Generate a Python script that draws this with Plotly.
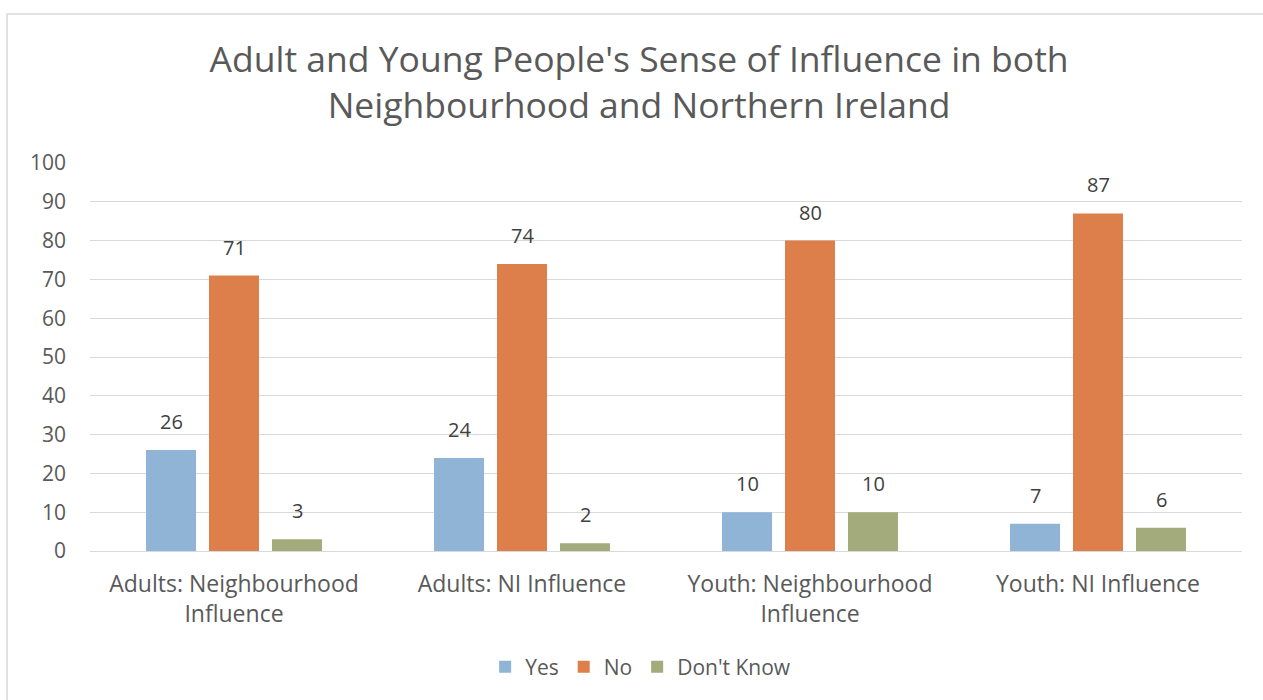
import plotly.graph_objects as go

categories = ["Adults: Neighbourhood<br>Influence", "Adults: NI Influence",
              "Youth: Neighbourhood<br>Influence", "Youth: NI Influence"]
series_names = ["Yes", "No", "Don't Know"]
yes_vals = [26, 24, 10, 7]
no_vals = [71, 74, 80, 87]
dk_vals = [3, 2, 10, 6]
colors = ["#8FB4D5", "#DC7F4A", "#A3AA7B"]
y_ticks = list(range(0, 101, 10))

FONT = "'Open Sans', sans-serif"
fig = go.Figure()
all_vals = [yes_vals, no_vals, dk_vals]
for name, vals, c in zip(series_names, all_vals, colors):
    fig.add_trace(go.Bar(x=categories, y=vals, name=name, marker_color=c,
                         marker_line_width=0))

annotations = []
for i, vals in enumerate(all_vals):
    for cat, v in zip(categories, vals):
        annotations.append(dict(x=cat, y=v, xref="x", yref="y", text=str(v),
                                showarrow=False, yanchor="bottom", yshift=13,
                                xshift=(i - 1) * 63,
                                font=dict(family=FONT, size=20, color="#404040")))

fig.update_layout(
    width=1263, height=700,
    margin=dict(l=90, r=21, t=163, b=149),
    paper_bgcolor="white", plot_bgcolor="white",
    barmode="group", bargap=0.344, bargroupgap=0.206,
    title=dict(text="Adult and Young People's Sense of Influence in both<br>Neighbourhood and Northern Ireland",
               x=0.506, xanchor="center", y=0.897, yanchor="middle",
               font=dict(family=FONT, size=35.5, color="#595959")),
    font=dict(family=FONT, size=20, color="#595959"),
    yaxis=dict(range=[0, 100], tickvals=y_ticks, showgrid=True, gridcolor="#D9D9D9",
               gridwidth=1, zeroline=False, showline=False, ticks="",
               ticklabelstandoff=23,
               tickfont=dict(family=FONT, size=21, color="#595959")),
    xaxis=dict(showline=True, linecolor="#D9D9D9", linewidth=1, ticks="",
               ticklabelstandoff=12,
               tickfont=dict(family=FONT, size=23, color="#595959")),
    legend=dict(orientation="h", x=0.478, xanchor="center", y=-0.299, yanchor="middle",
                font=dict(family=FONT, size=21, color="#595959"),
                itemwidth=30, traceorder="normal"),
    annotations=annotations,
    shapes=[dict(type="rect", xref="paper", yref="paper",
                 x0=-0.072, x1=1.06, y0=-0.45, y1=1.384,
                 line=dict(color="#D9D9D9", width=1.5), fillcolor="rgba(0,0,0,0)",
                 layer="below")],
)

fig.write_html("out.html")
